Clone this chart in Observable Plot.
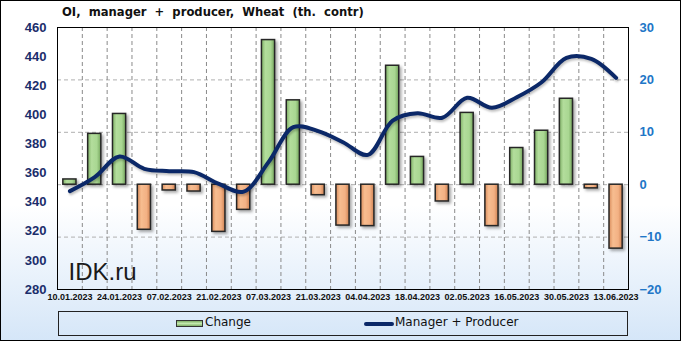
<!DOCTYPE html>
<html>
<head>
<meta charset="utf-8">
<script src="https://cdn.jsdelivr.net/npm/d3@7"></script>
<script src="https://cdn.jsdelivr.net/npm/@observablehq/plot@0.6"></script>
<style>
html, body { margin: 0; padding: 0; background: #fff; }
#chart { position: relative; width: 681px; height: 341px; overflow: hidden;
  background: linear-gradient(to bottom, #ffffff 0%, #ffffff 60%, #d5e6f8 100%);
  font-family: "DejaVu Sans", sans-serif; }
#chart svg.main { position: absolute; left: 0; top: 0; }
#border { position: absolute; left: 0; top: 0; width: 679px; height: 339px; border: 1px solid #000; pointer-events: none; }
#title { position: absolute; left: 62px; top: 5px; font: bold 11.6px "DejaVu Sans", sans-serif; color: #111; white-space: pre; }
#legend { position: absolute; left: 58px; top: 311px; width: 568px; height: 23px; border: 1px solid #222; }
.lg-text { position: absolute; top: 315px; font: 12px "DejaVu Sans", sans-serif; color: #111; white-space: pre; }
#sw1 { position: absolute; left: 176px; top: 320px; width: 25px; height: 5px; border: 1px solid #333;
  background: linear-gradient(to bottom, #7fae67, #c2e8ad 50%, #7fae67); }
#sw2 { position: absolute; left: 364px; top: 322px; width: 30px; height: 4px; background: #0b2868; border-radius: 2px; }
g[aria-label="bar"] { filter: drop-shadow(2px 2px 1.5px rgba(0,0,0,0.35)); }
g[aria-label="line"] { filter: drop-shadow(1px 2px 1px rgba(0,0,0,0.25)); }
</style>
</head>
<body>
<svg width="0" height="0" style="position:absolute">
  <defs>
    <linearGradient id="gG" x1="0" x2="1" y1="0" y2="0">
      <stop offset="0" stop-color="#7fb066"/>
      <stop offset="0.3" stop-color="#b3dd9c"/>
      <stop offset="0.7" stop-color="#a9d792"/>
      <stop offset="1" stop-color="#74a45c"/>
    </linearGradient>
    <linearGradient id="gO" x1="0" x2="1" y1="0" y2="0">
      <stop offset="0" stop-color="#d98c5c"/>
      <stop offset="0.3" stop-color="#f7bd90"/>
      <stop offset="0.7" stop-color="#f3b184"/>
      <stop offset="1" stop-color="#cf8252"/>
    </linearGradient>
  </defs>
</svg>
<div id="chart"></div>
<script>
// ---- data ----
const titleText = "OI,  manager  +  producer,  Wheat  (th.  contr)";
const watermark = "IDK.ru";
const seriesNames = ["Change", "Manager + Producer"];
const dates = ["10.01.2023","17.01.2023","24.01.2023","31.01.2023","07.02.2023","14.02.2023","21.02.2023","28.02.2023",
  "07.03.2023","14.03.2023","21.03.2023","28.03.2023","04.04.2023","11.04.2023","18.04.2023","25.04.2023",
  "02.05.2023","09.05.2023","16.05.2023","23.05.2023","30.05.2023","06.06.2023","13.06.2023"];
const changes = [1.0, 9.7, 13.5, -8.6, -1.1, -1.3, -9.0, -4.8, 27.6, 16.1, -2.0, -7.8,
  -7.9, 22.7, 5.3, -3.2, 13.7, -7.9, 7.0, 10.3, 16.4, -0.7, -12.2];
const managerProducer = [347.6, 357.2, 371.4, 362.9, 361.3, 360.6, 352.6, 347.2, 367.5, 391.5, 388.8, 381.2,
  372.5, 396.1, 401.1, 398.0, 411.7, 404.8, 412.1, 422.4, 439.2, 438.5, 425.4];
const leftTicks = [280, 300, 320, 340, 360, 380, 400, 420, 440, 460];
const rightTicks = [-20, -10, 0, 10, 20, 30];
const gridTicks = [-10, 0, 10, 20];
const xLabelDates = dates.filter((d, i) => i % 2 === 0);

// ---- layout ----
const W = 681, H = 341, mL = 57, mR = 53, mT = 27, mB = 52;
const leftDomain = [leftTicks[0], leftTicks[leftTicks.length - 1]];
const rightDomain = [rightTicks[0], rightTicks[rightTicks.length - 1]];
const toR = v => rightDomain[0] + (v - leftDomain[0]) * (rightDomain[1] - rightDomain[0]) / (leftDomain[1] - leftDomain[0]);
const fromR = r => leftDomain[0] + (r - rightDomain[0]) * (leftDomain[1] - leftDomain[0]) / (rightDomain[1] - rightDomain[0]);
const rows = dates.map((d, i) => ({date: d, change: changes[i], mp: managerProducer[i], mpR: toR(managerProducer[i])}));
const step = (W - mL - mR) / dates.length;

const plot = Plot.plot({
  width: W, height: H, marginLeft: mL, marginRight: mR, marginTop: mT, marginBottom: mB,
  style: {background: "transparent", overflow: "visible"},
  x: {type: "band", domain: dates, paddingInner: 0.47, paddingOuter: 0.235, round: false},
  y: {domain: rightDomain},
  marks: [
    Plot.ruleY(gridTicks, {stroke: "#b0b0b0", strokeDasharray: "4,3"}),
    Plot.ruleX(dates.slice(1), {x: d => d, dx: -step / 2, stroke: "#8a8a8a", strokeWidth: 1, strokeDasharray: "4,3"}),
    Plot.barY(rows.filter(d => d.change >= 0), {x: "date", y: "change", fill: "url(#gG)", stroke: "#262626", strokeWidth: 1.5}),
    Plot.barY(rows.filter(d => d.change < 0), {x: "date", y: "change", fill: "url(#gO)", stroke: "#262626", strokeWidth: 1.5}),
    Plot.line(rows, {x: "date", y: "mpR", stroke: "#0b2868", strokeWidth: 4, curve: "catmull-rom"}),
    Plot.text([watermark], {frameAnchor: "bottom-left", dx: 11, dy: -10, fontSize: 24, fontFamily: "Liberation Sans, Arial, sans-serif", fill: "#1a1a1a"}),
    Plot.frame({stroke: "#000"}),
    Plot.axisY(leftTicks.map(toR), {anchor: "left", tickSize: 0, tickPadding: 11, tickFormat: d => String(Math.round(fromR(d))),
      fontSize: 13, fontWeight: "bold", fontFamily: "Liberation Sans, Arial, sans-serif", fill: "#1b2d6b", label: null}),
    Plot.axisY(rightTicks, {anchor: "right", tickSize: 0, tickPadding: 11,
      fontSize: 13, fontWeight: "bold", fontFamily: "Liberation Sans, Arial, sans-serif", fill: "#2176c7", label: null}),
    Plot.axisX(xLabelDates, {anchor: "bottom", tickSize: 0, tickPadding: 4, fontSize: 9, fontWeight: "bold",
      fontFamily: "Liberation Sans, Arial, sans-serif", fill: "#111", label: null})
  ]
});
plot.classList.add("main");
const chart = document.getElementById("chart");
chart.appendChild(plot);

const t = document.createElement("div"); t.id = "title"; t.textContent = titleText; chart.appendChild(t);
const lg = document.createElement("div"); lg.id = "legend"; chart.appendChild(lg);
const s1 = document.createElement("div"); s1.id = "sw1"; chart.appendChild(s1);
const l1 = document.createElement("div"); l1.className = "lg-text"; l1.style.left = "205px"; l1.textContent = seriesNames[0]; chart.appendChild(l1);
const s2 = document.createElement("div"); s2.id = "sw2"; chart.appendChild(s2);
const l2 = document.createElement("div"); l2.className = "lg-text"; l2.style.left = "395px"; l2.textContent = seriesNames[1]; chart.appendChild(l2);
const b = document.createElement("div"); b.id = "border"; chart.appendChild(b);
</script>
</body>
</html>
